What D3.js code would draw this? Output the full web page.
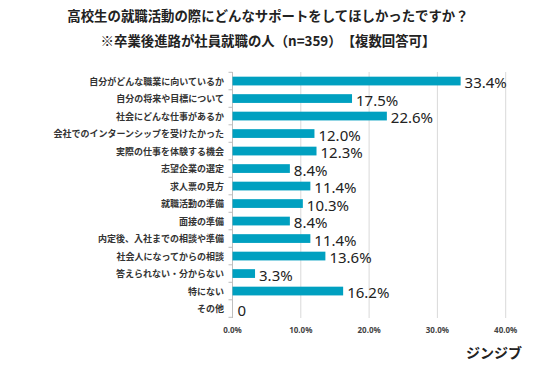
<!DOCTYPE html>
<html><head><meta charset="utf-8">
<script src="https://cdn.jsdelivr.net/npm/d3@7"></script>
<style>
body{margin:0;background:#fff;}
svg{display:block;font-family:"Noto Sans CJK JP","Noto Sans",sans-serif;}
</style></head><body>
<svg id="c" width="536" height="365"></svg>
<script>
const categories = ["自分がどんな職業に向いているか","自分の将来や目標について","社会にどんな仕事があるか","会社でのインターンシップを受けたかった","実際の仕事を体験する機会","志望企業の選定","求人票の見方","就職活動の準備","面接の準備","内定後、入社までの相談や準備","社会人になってからの相談","答えられない・分からない","特にない","その他"];
const values = [33.4,17.5,22.6,12.0,12.3,8.4,11.4,10.3,8.4,11.4,13.6,3.3,16.2,0];
const xTicks = [0,10,20,30,40];
const titleLines = ["高校生の就職活動の際にどんなサポートをしてほしかったですか？","※卒業後進路が社員就職の人（n=359）　【複数回答可】"];

const svg = d3.select("#c");
const x = d3.scaleLinear().domain([0,40]).range([232.5,505.7]);
const y = d3.scaleBand().domain(categories).range([72.3,317.3]).paddingInner(0.5).paddingOuter(0.25);

svg.selectAll(".title").data(titleLines).join("text")
  .attr("x",268).attr("y",(d,i)=>21+i*25)
  .attr("text-anchor","middle").attr("font-size",13.4).attr("font-weight","bold").attr("fill","#222")
  .text(d=>d);

// gridlines
svg.selectAll(".grid").data(xTicks.slice(1)).join("line")
  .attr("x1",d=>x(d)).attr("x2",d=>x(d)).attr("y1",72).attr("y2",318)
  .attr("stroke","#d9d9d9").attr("stroke-width",1);

// left axis line + ticks
svg.append("line").attr("x1",x(0)).attr("x2",x(0)).attr("y1",72).attr("y2",318).attr("stroke","#bfbfbf");
const bounds = d3.range(categories.length+1).map(i=>72.3 + i*(245/categories.length));
svg.selectAll(".tk").data(bounds).join("line")
  .attr("x1",x(0)-4).attr("x2",x(0)).attr("y1",d=>d).attr("y2",d=>d).attr("stroke","#bfbfbf");

// bars
svg.selectAll(".bar").data(values).join("rect")
  .attr("x",x(0)).attr("y",(d,i)=>y(categories[i]))
  .attr("width",d=>x(d)-x(0)).attr("height",y.bandwidth())
  .attr("fill","#00a0c0");

// category labels
svg.selectAll(".cl").data(categories).join("text")
  .attr("x",224).attr("y",d=>y(d)+y.bandwidth()/2)
  .attr("dominant-baseline","central").attr("text-anchor","end")
  .attr("font-size",9).attr("font-weight","bold").attr("fill","#333")
  .text(d=>d);

// value labels
svg.selectAll(".vl").data(values).join("text")
  .attr("x",d=>x(d)+(d===0?5:4)).attr("y",(d,i)=>y(categories[i])+y.bandwidth()/2+1)
  .attr("dominant-baseline","central")
  .attr("font-family","'Noto Sans',sans-serif")
  .attr("font-size",15).attr("fill","#222")
  .text(d=>d===0?"0":d.toFixed(1)+"%");

// x tick labels
svg.selectAll(".xl").data(xTicks).join("text")
  .attr("x",d=>x(d)).attr("y",333)
  .attr("text-anchor","middle").attr("font-family","'Noto Sans',sans-serif")
  .attr("font-size",8).attr("font-weight","bold").attr("fill","#444")
  .text(d=>d.toFixed(1)+"%");

// logo
svg.append("text").attr("x",522).attr("y",358).attr("text-anchor","end")
  .attr("font-size",14).attr("font-weight","bold").attr("fill","#222").text("ジンジブ");
</script>
</body></html>
